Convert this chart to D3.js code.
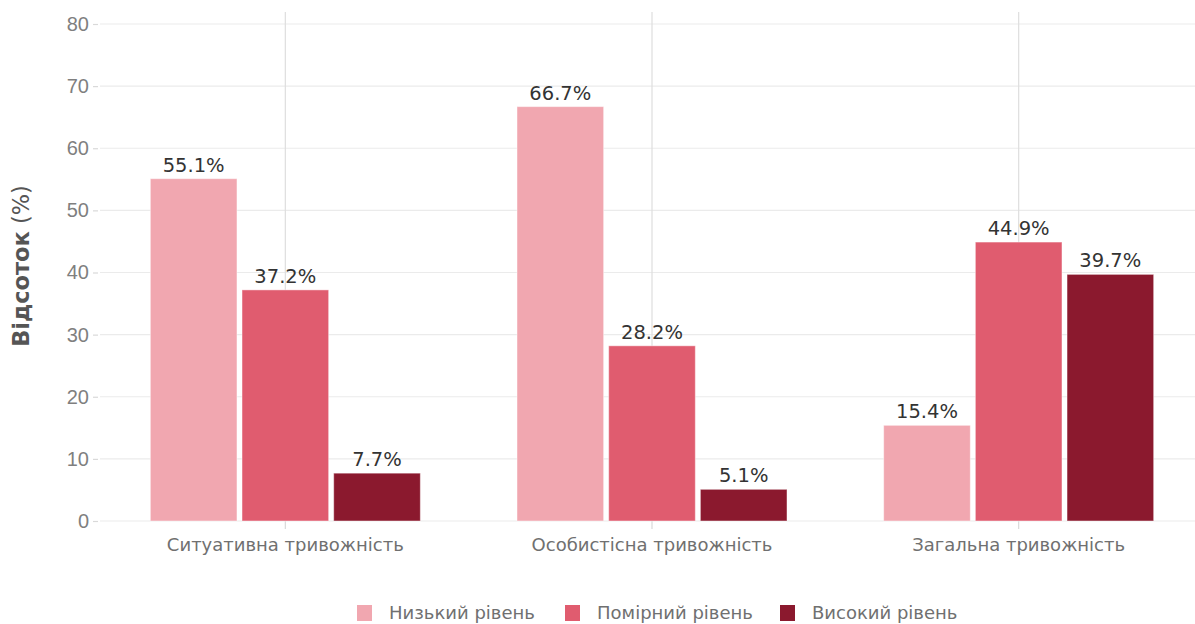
<!DOCTYPE html>
<html>
<head>
<meta charset="utf-8">
<script src="https://cdn.jsdelivr.net/npm/d3@7"></script>
<style>
  body { margin: 0; background: #fff; }
  svg { display: block; }
</style>
</head>
<body>
<svg id="chart" width="1195" height="624"></svg>
<script>
const categories = ["Ситуативна тривожність", "Особистісна тривожність", "Загальна тривожність"];
const seriesNames = ["Низький рівень", "Помірний рівень", "Високий рівень"];
const lowValues = [55.1, 66.7, 15.4];
const moderateValues = [37.2, 28.2, 44.9];
const highValues = [7.7, 5.1, 39.7];
const yTicks = [0, 10, 20, 30, 40, 50, 60, 70, 80];
const colors = ["#F1A7B0", "#E05C6F", "#8B192E"];

const seriesValues = [lowValues, moderateValues, highValues];
const data = [];
categories.forEach((c, i) => {
  seriesNames.forEach((s, j) => data.push({ cat: c, series: s, value: seriesValues[j][i] }));
});

const svg = d3.select("#chart");
const panel = { left: 100, right: 1195, top: 12, bottom: 521 };

const x = d3.scaleBand().domain(categories).range([102, 1202]).paddingInner(0).paddingOuter(0);
const xInner = d3.scaleBand().domain(seriesNames).range([-135, 135]).paddingInner(0.055);
const y = d3.scaleLinear().domain([0, 80]).range([521, 24]);
const color = d3.scaleOrdinal().domain(seriesNames).range(colors);

// horizontal gridlines
svg.append("g").selectAll("line").data(yTicks).join("line")
  .attr("x1", panel.left).attr("x2", panel.right)
  .attr("y1", d => y(d)).attr("y2", d => y(d))
  .attr("stroke", "#ebebeb").attr("stroke-width", 1.2);

// vertical gridlines
svg.append("g").selectAll("line").data(categories).join("line")
  .attr("x1", d => x(d) + x.bandwidth() / 2).attr("x2", d => x(d) + x.bandwidth() / 2)
  .attr("y1", panel.top).attr("y2", panel.bottom)
  .attr("stroke", "#dedede").attr("stroke-width", 1.2);

// y axis
const yAxis = d3.axisLeft(y).tickValues(yTicks).tickSize(5).tickPadding(4);
const gy = svg.append("g").attr("transform", `translate(${panel.left - 2},0)`).call(yAxis);
gy.select(".domain").remove();
gy.selectAll(".tick line").attr("stroke", "#d9d9d9").attr("stroke-width", 1.2);
gy.selectAll(".tick text").attr("fill", "#7f7f7f")
  .style("font-family", "'Liberation Sans', Arial, sans-serif").style("font-size", "20px");

// x axis
const xAxis = d3.axisBottom(x).tickSize(8).tickPadding(9);
const gx = svg.append("g").attr("transform", `translate(0,${panel.bottom})`).call(xAxis);
gx.select(".domain").remove();
gx.selectAll(".tick line").attr("stroke", "#d9d9d9").attr("stroke-width", 1.2);
gx.selectAll(".tick text").attr("fill", "#707070")
  .style("font-family", "'DejaVu Sans', sans-serif").style("font-size", "18px");

// bars
svg.append("g").selectAll("rect").data(data).join("rect")
  .attr("x", d => x(d.cat) + x.bandwidth() / 2 + xInner(d.series))
  .attr("width", xInner.bandwidth())
  .attr("y", d => y(d.value))
  .attr("height", d => y(0) - y(d.value))
  .attr("fill", d => color(d.series))
  .attr("stroke", "rgba(255,255,255,0.45)").attr("stroke-width", 1);

// value labels
svg.append("g").selectAll("text").data(data).join("text")
  .attr("x", d => x(d.cat) + x.bandwidth() / 2 + xInner(d.series) + xInner.bandwidth() / 2)
  .attr("y", d => y(d.value) - 7)
  .attr("text-anchor", "middle")
  .attr("fill", "#333333")
  .style("font-family", "'DejaVu Sans', sans-serif").style("font-size", "19.5px")
  .text(d => d.value.toFixed(1) + "%");

// y title
const yt = svg.append("text")
  .attr("transform", `translate(29,266) rotate(-90)`)
  .attr("text-anchor", "middle").attr("fill", "#555555")
  .style("font-family", "'DejaVu Sans', sans-serif").style("font-size", "22.5px");
yt.append("tspan").attr("font-weight", "bold").text("Відсоток");
yt.append("tspan").attr("font-weight", "normal").text(" (%)");

// legend
const legendItems = [
  { name: seriesNames[0], x: 357 },
  { name: seriesNames[1], x: 565 },
  { name: seriesNames[2], x: 780 }
];
const lg = svg.append("g").selectAll("g").data(legendItems).join("g")
  .attr("transform", d => `translate(${d.x},613)`);
lg.append("rect").attr("x", 0).attr("y", -8).attr("width", 15).attr("height", 16)
  .attr("fill", d => color(d.name));
lg.append("text").attr("x", 32).attr("y", 0).attr("dy", "0.35em")
  .attr("fill", "#707070")
  .style("font-family", "'DejaVu Sans', sans-serif").style("font-size", "18px")
  .text(d => d.name);
</script>
</body>
</html>
